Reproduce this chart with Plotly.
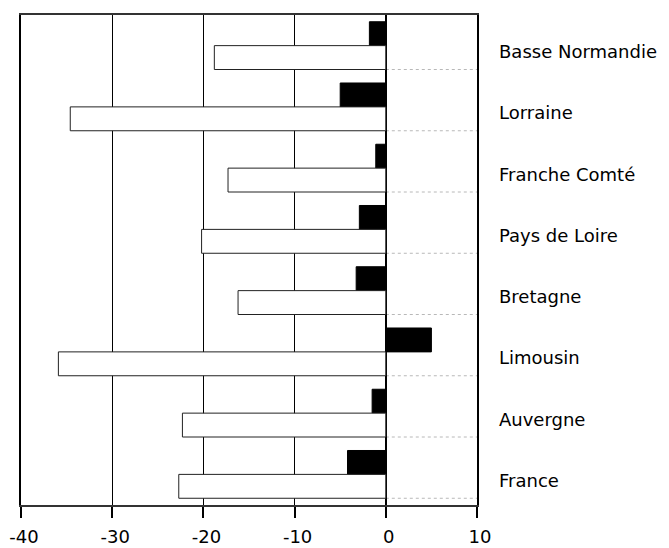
import plotly.graph_objects as go

regions = ["Basse Normandie", "Lorraine", "Franche Comté", "Pays de Loire",
           "Bretagne", "Limousin", "Auvergne", "France"]
black_vals = [-1.8, -5.0, -1.1, -2.9, -3.25, 5.0, -1.5, -4.2]
white_vals = [-18.8, -34.6, -17.3, -20.2, -16.2, -35.9, -22.3, -22.7]
tick_vals = [-40, -30, -20, -10, 0, 10]
tick_text = ["-40", "-30", "-20", "-10", "0", "10"]

FONT = "DejaVu Sans, Liberation Sans, Arial, sans-serif"

fig = go.Figure()
fig.add_trace(go.Bar(y=regions, x=black_vals, orientation="h",
                     marker=dict(color="black", line=dict(color="black", width=1)),
                     showlegend=False))
fig.add_trace(go.Bar(y=regions, x=white_vals, orientation="h",
                     marker=dict(color="white", line=dict(color="#222222", width=1)),
                     showlegend=False))

for r in regions:
    fig.add_annotation(x=1.043, xref="paper", y=r, yref="y", yshift=-6,
                       text=r, showarrow=False, xanchor="left",
                       font=dict(family=FONT, size=18, color="black"))

# faint dotted traces below each group (as in the scanned original)
for i in range(len(regions)):
    fig.add_shape(type="line", xref="x", yref="y", x0=0, x1=14,
                  y0=i + 0.39, y1=i + 0.39,
                  line=dict(color="#b8b8b8", width=1, dash="dot"), layer="below")

fig.update_layout(
    width=669, height=548,
    margin=dict(l=13, r=200, t=7, b=51, autoexpand=False),
    paper_bgcolor="white", plot_bgcolor="white",
    barmode="group", bargap=0.22, bargroupgap=0,
    font=dict(family=FONT, size=18, color="black"),
    xaxis=dict(range=[-40, 10], tickvals=tick_vals, ticktext=tick_text,
               automargin=False, ticklabeloverflow="allow",
               showgrid=True, gridcolor="black", gridwidth=1.3,
               zeroline=True, zerolinecolor="black", zerolinewidth=2,
               showline=True, linecolor="#333333", linewidth=2, mirror=True,
               ticks="outside", ticklen=11, tickwidth=1.5, tickcolor="black",
               ticklabelstandoff=3, ticklabelshift=3,
               tickfont=dict(family=FONT, size=18, color="black")),
    yaxis=dict(categoryorder="array", categoryarray=regions, automargin=False,
               range=[7.5, -0.5], showgrid=False, zeroline=False,
               showline=True, linecolor="black", linewidth=2, mirror=True,
               showticklabels=False, ticks=""),
)

fig.write_html("out.html")
